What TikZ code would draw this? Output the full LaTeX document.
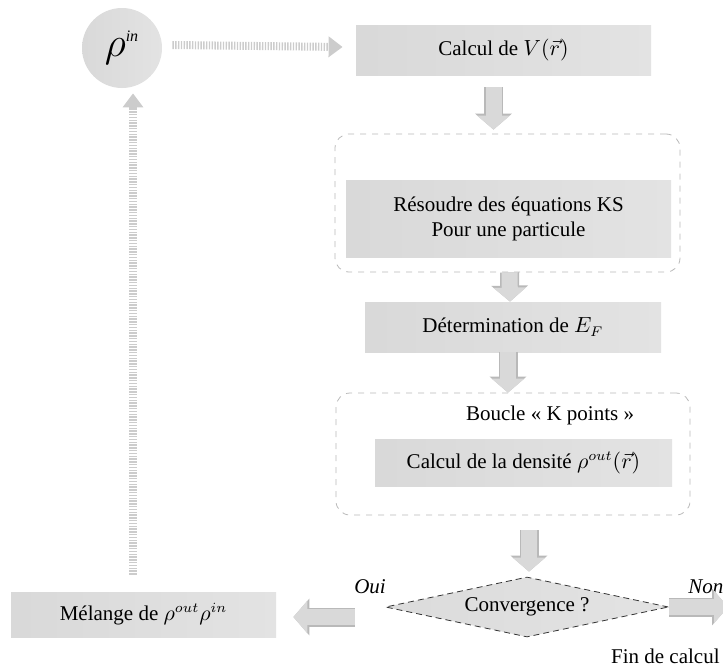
\documentclass[tikz,border=0pt]{standalone}
\usepackage{fontspec}
\setmainfont{Liberation Serif}
\usetikzlibrary{shapes.geometric,arrows.meta,positioning}
\tikzstyle{marble}   = [rectangle, inner sep=2pt, text centered, left color=gray!30, middle color=gray!6, right color=gray!22]
\tikzstyle{loopbox}  = [rectangle, rounded corners=7pt, draw=gray!55, dashed]
\tikzstyle{fatarrow} = [draw=gray!30, line width=8pt, -{Triangle[length=7pt,width=16pt]}, preaction={draw=gray!55, line width=9.5pt, -{Triangle[length=8pt,width=18pt]}}]
\tikzstyle{dotarrow} = [draw=gray!40, line width=4pt, dash pattern=on 0.7pt off 0.7pt, -{Triangle[length=7pt,width=10pt]}]

\begin{document}
\begin{tikzpicture}[x=0.5pt,y=-0.5pt,font=\fontsize{10.5}{12.5}\selectfont]
        \useasboundingbox (0,0) rectangle (723,669);

        % dashed loops
        \node[loopbox, minimum width=172.5pt, minimum height=69pt] (ksloop) at (507.5,203) {};
        \node[loopbox, minimum width=177pt, minimum height=61pt] (kloop) at (513,454) {};

        % steps
        \node[marble, circle, inner sep=0pt, minimum size=40pt, font=\fontsize{20}{24}\selectfont] (rin) at (122,48) {$\rho^{\mbox{\fontsize{8}{8}\selectfont\itshape in}}$};
        \node[marble, minimum width=147.5pt, minimum height=25pt] (vr) at (503.5,50) {Calcul de $V(\vec r)$};
        \node[marble, minimum width=162.5pt, minimum height=38.5pt, align=center] (ks) at (508.5,218.5) {R\'esoudre des \'equations KS\\Pour une particule};
        \node[marble, minimum width=148pt, minimum height=25pt] (ef) at (513,327) {D\'etermination de $E_F$};
        \node (kp) at (550,415) {Boucle \guillemotleft{} K points \guillemotright};
        \node[marble, minimum width=148.5pt, minimum height=23.5pt] (rho) at (523.5,462.5) {Calcul de la densit\'e $\rho^{out}(\vec r)$};
        \node[diamond, aspect=4.7, inner sep=0pt, minimum width=141.5pt, minimum height=30pt, left color=gray!28, middle color=gray!6, right color=gray!22, draw=black!80, densely dashed] (conv) at (527,607) {Convergence ?};
        \node[marble, minimum width=132.5pt, minimum height=22.5pt] (mel) at (143.5,614.5) {M\'elange de $\rho^{out}\rho^{in}$};

        \node[font=\fontsize{10.5}{12.5}\selectfont\itshape] (oui) at (370,587) {Oui};
        \node[anchor=west, font=\fontsize{10.5}{12.5}\selectfont\itshape, inner sep=0pt] (non) at (688,587) {Non};
        \node[anchor=east, inner sep=0pt] (fin) at (720,656) {Fin de calcul};
        \coordinate (out) at (728,607);

        % arrows
        \draw[dotarrow] ([xshift=5pt,yshift=1.5pt]rin.east) -- ([xshift=-6.5pt,yshift=1.5pt]vr.west);
        \draw[fatarrow] ([xshift=-5pt,yshift=-6pt]vr.south) -- ([xshift=-7pt,yshift=2pt]ksloop.north);
        \draw[fatarrow] ([xshift=1pt]ksloop.south) -- ([xshift=-1.5pt]ef.north);
        \draw[fatarrow] ([xshift=-2.5pt]ef.south) -- ([xshift=-2.5pt]kloop.north);
        \draw[fatarrow] ([xshift=8pt,yshift=-7.5pt]kloop.south) -- ([xshift=1pt,yshift=2.5pt]conv.north);
        \draw[fatarrow] ([xshift=-15pt,yshift=-5pt]conv.west) -- ([xshift=8.5pt,yshift=-1.25pt]mel.east);
        \draw[fatarrow] (conv.east) -- (out);
        \draw[dotarrow] ([xshift=-5.25pt,yshift=8.5pt]mel.north) -- ([xshift=5.5pt,yshift=-2.5pt]rin.south);
\end{tikzpicture}
\end{document}
